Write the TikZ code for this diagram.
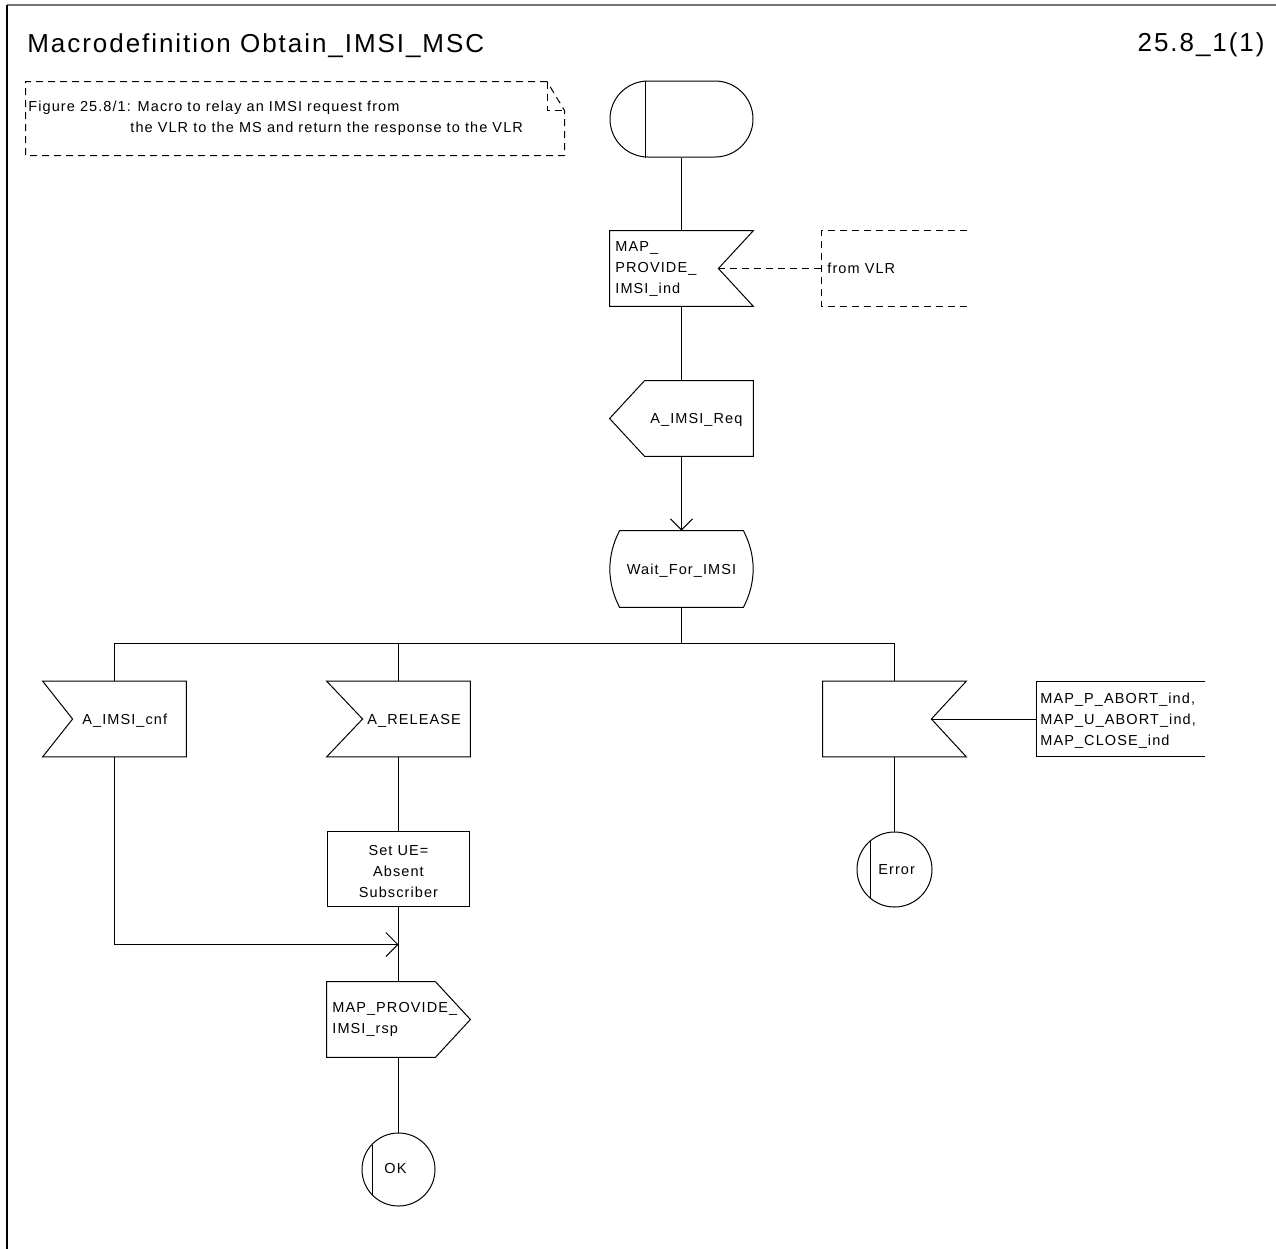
\documentclass[tikz,border=0pt]{standalone}
\usepackage{fontspec}
\setmainfont{Liberation Sans}[LetterSpace=7.5]
\usetikzlibrary{arrows.meta,calc}
\tikzset{
  ln/.style={line width=0.5pt},
  sym/.style={rectangle, draw=none, minimum width=71.5pt, minimum height=37.5pt, inner sep=0pt},
  txt/.style={inner sep=0pt, font=\fontsize{7.25pt}{10.5pt}\selectfont},
  bigtxt/.style={inner sep=0pt, font=\fontsize{13pt}{15pt}\selectfont},
  dsh/.style={ln, dash pattern=on 3.5pt off 2.5pt},
  conn/.style={circle, draw, ln, inner sep=0pt},
  barb/.style={-{Straight Barb[length=5.5pt,width=11pt]}}
}
\begin{document}
\begin{tikzpicture}[x=0.5pt,y=-0.5pt]
\useasboundingbox (0,0) rectangle (1276,1249);
% frame
\draw[line width=0.6pt, black!55] (7,5) -- (1276,5);
\draw[line width=0.6pt] (7,5) -- (7,1249);
% title
\node[bigtxt, anchor=base west] (title) at (27,52) {Macrodefinition Obtain\_IMSI\_MSC};
\node[bigtxt, anchor=base east] (pageno) at (1265,51) {25.8\_1(1)};
% comment
\draw[dsh] (547,81.5) -- (25.5,81.5) -- (25.5,155.5) -- (564.5,155.5) -- (564.5,110.5) -- (547,81.5);
\draw[dsh] (547.5,81.5) -- (547.5,110.5) -- (564.5,110.5);
\node[txt, anchor=base west] (c1) at (28,111) {Figure 25.8/1: Macro to relay an IMSI request from};
\node[txt, anchor=base west] (c2) at (130,132) {the VLR to the MS and return the response to the VLR};

% nodes
\node[sym, draw, ln, rounded corners=19pt, minimum height=38pt] (start) at (681.5,119) {};
\draw[ln] ($(start.north west)+(36,0)$) -- ($(start.south west)+(36,0)$);

\node[sym] (in1) at (681.5,268.5) {};
\draw[ln] (in1.north west) -- (in1.north east) -- ($(in1.east)+(-35,0)$) -- (in1.south east) -- (in1.south west) -- cycle;
\coordinate (in1n) at ($(in1.east)+(-35,0)$);
\node[txt, anchor=west, align=left] (in1t) at (615,268.5) {MAP\_\\PROVIDE\_\\IMSI\_ind};

\node[sym, minimum width=72.5pt] (vlr) at (894.5,268.5) {};
\draw[dsh] (vlr.north east) -- (vlr.north west) -- (vlr.south west) -- (vlr.south east);
\node[txt, anchor=base west] (vlrt) at (827,273) {from VLR};

\node[sym] (out1) at (681.5,418.5) {};
\draw[ln] ($(out1.north west)+(35,0)$) -- (out1.north east) -- (out1.south east) -- ($(out1.south west)+(35,0)$) -- (out1.west) -- cycle;
\node[txt, anchor=base west] (out1t) at (650,423) {A\_IMSI\_Req};

\node[sym, minimum height=38pt] (state) at (681.5,569) {};
\draw[ln] ($(state.north west)+(10,0)$) -- ($(state.north east)+(-10,0)$)
  .. controls ($(state.north east)+(3,25)$) and ($(state.south east)+(3,-25)$) .. ($(state.south east)+(-10,0)$)
  -- ($(state.south west)+(10,0)$)
  .. controls ($(state.south west)+(-3,-25)$) and ($(state.north west)+(-3,25)$) .. cycle;
\node[txt, anchor=base] (statet) at (681.5,574) {Wait\_For\_IMSI};

\coordinate (br) at (681.5,643.5);

\node[sym] (in2) at (114.5,719) {};
\draw[ln] (in2.north west) -- (in2.north east) -- (in2.south east) -- (in2.south west) -- ($(in2.west)+(30,0)$) -- cycle;
\node[txt, anchor=base west] (in2t) at (82,724) {A\_IMSI\_cnf};

\node[sym] (in3) at (398.5,719) {};
\draw[ln] (in3.north west) -- (in3.north east) -- (in3.south east) -- (in3.south west) -- ($(in3.west)+(36,0)$) -- cycle;
\node[txt, anchor=base west] (in3t) at (367,724) {A\_RELEASE};

\node[sym] (in4) at (894.5,719) {};
\draw[ln] (in4.north west) -- (in4.north east) -- ($(in4.east)+(-35,0)$) -- (in4.south east) -- (in4.south west) -- cycle;
\coordinate (in4n) at ($(in4.east)+(-35,0)$);

\node[sym, minimum width=84pt] (sig) at (1121,719) {};
\draw[ln] (sig.north east) -- (sig.north west) -- (sig.south west) -- (sig.south east);
\node[txt, anchor=west, align=left] (sigt) at (1040,721) {MAP\_P\_ABORT\_ind,\\MAP\_U\_ABORT\_ind,\\MAP\_CLOSE\_ind};

\node[conn, minimum size=37.5pt] (err) at (894.5,869.5) {};
\draw[ln] ($(err.center)+(-24,-28.5)$) -- ($(err.center)+(-24,28.5)$);
\node[txt, anchor=base west] (errt) at (878,874) {Error};

\node[sym, draw, ln, minimum width=71pt] (task) at (398.5,869) {};
\node[txt, align=center] (taskt) at (398.5,871) {Set UE=\\Absent\\Subscriber};

\coordinate (join) at (398.5,944.5);

\node[sym] (out2) at (398.5,1019.5) {};
\draw[ln] (out2.north west) -- ($(out2.north east)+(-35,0)$) -- (out2.east) -- ($(out2.south east)+(-35,0)$) -- (out2.south west) -- cycle;
\node[txt, anchor=west, align=left] (out2t) at (332,1019) {MAP\_PROVIDE\_\\IMSI\_rsp};

\node[conn, minimum size=36.5pt] (ok) at (398.5,1169.5) {};
\draw[ln] ($(ok.center)+(-26.5,-25)$) -- ($(ok.center)+(-26.5,25)$);
\node[txt, anchor=base west] (okt) at (384,1173) {OK};

% connectors
\draw[ln] (start.south) -- (in1.north);
\draw[dsh] (in1n) -- (vlr.west);
\draw[ln] (in1.south) -- (out1.north);
\draw[ln, barb] (out1.south) -- (state.north);
\draw[ln] (state.south) -- (br);
\draw[ln] (in2.north) -- (in2.north |- br) -- (in4.north |- br) -- (in4.north);
\draw[ln] (in3.north) -- (in3.north |- br);
\draw[ln] (in4n) -- (sig.west);
\draw[ln] (in4.south) -- (err.north);
\draw[ln] (in3.south) -- (task.north);
\draw[ln] (task.south) -- (out2.north);
\draw[ln, -{Straight Barb[length=6pt,width=12pt]}] (in2.south) |- (join);
\draw[ln] (out2.south) -- (ok.north);
\end{tikzpicture}
\end{document}
